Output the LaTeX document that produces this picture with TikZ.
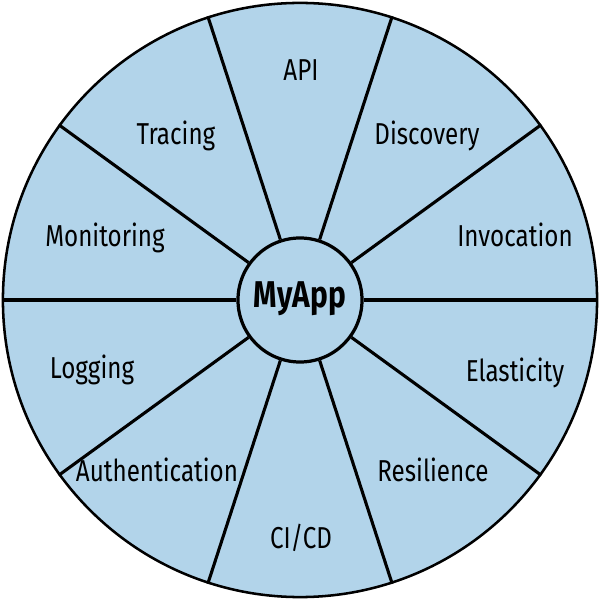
\documentclass[tikz,border=0pt]{standalone}
\usepackage{fontspec}
\setmainfont{Fira Sans}[FakeStretch=0.8]
\definecolor{wheelblue}{HTML}{B2D4EA}
\tikzset{
  part/.style={anchor=base, font=\fontsize{21.5}{24}\selectfont},
  spoke/.style={line width=2.2pt}
}

\begin{document}
\begin{tikzpicture}[x=0.025cm, y=0.025cm]
    \useasboundingbox (0, 0) rectangle (600, 600);

    \node[circle, draw, fill=wheelblue, line width=1.8pt, minimum size=14.85cm, inner sep=0pt] (wheel) at (300, 300) {};
    \node[circle, draw, fill=wheelblue, line width=2.3pt, minimum size=3.1cm, inner sep=0pt] (app) at (300, 300) {};
    \node[anchor=base, font=\fontsize{26.5}{30}\selectfont\bfseries] (name) at (300, 292) {MyApp};

    \foreach \a in {0, 36, ..., 324}
      \draw[spoke] (app.\a) -- (wheel.\a);

    \node[part] (api) at (301, 519) {API};
    \node[part] (tracing) at (176, 455) {Tracing};
    \node[part] (discovery) at (427, 455) {Discovery};
    \node[part] (monitoring) at (105, 353) {Monitoring};
    \node[part] (invocation) at (515, 353) {Invocation};
    \node[part] (logging) at (92, 221) {Logging};
    \node[part] (elasticity) at (515, 218) {Elasticity};
    \node[part] (auth) at (157, 118) {Authentication};
    \node[part] (resilience) at (433, 118) {Resilience};
    \node[part] (cicd) at (301, 52) {CI/CD};
\end{tikzpicture}
\end{document}
